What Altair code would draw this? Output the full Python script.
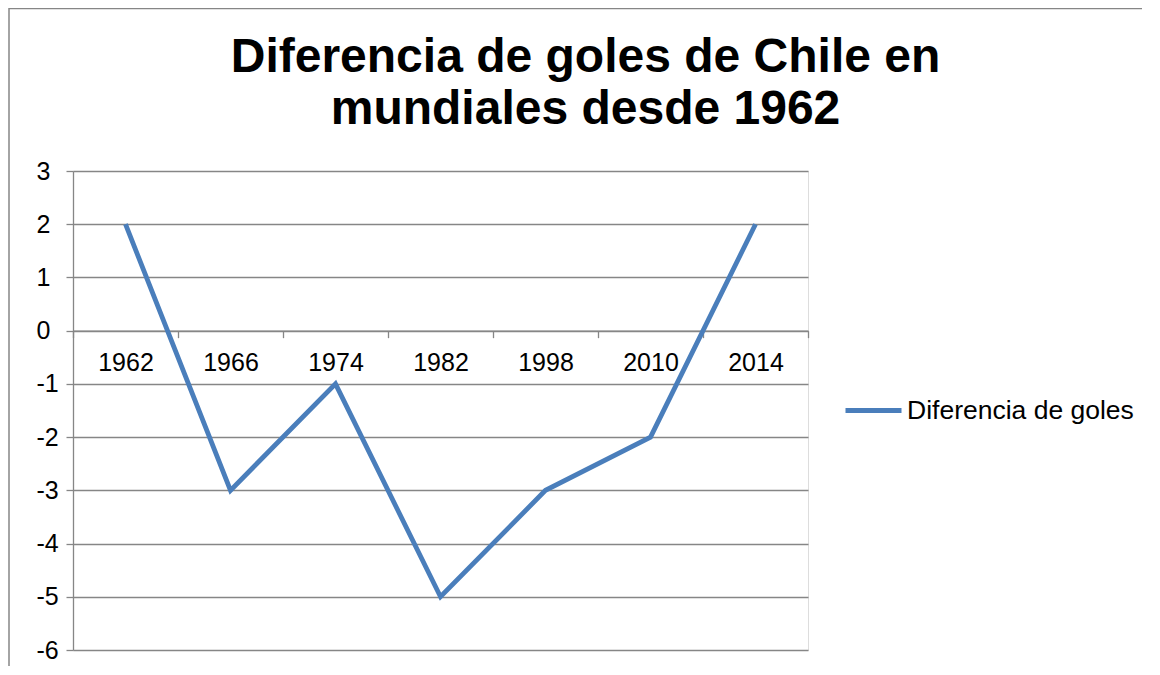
import altair as alt
import pandas as pd

years = ["1962", "1966", "1974", "1982", "1998", "2010", "2014"]
goal_diff = [2, -3, -1, -5, -3, -2, 2]
series_name = "Diferencia de goles"
title_lines = ["Diferencia de goles de Chile en", "mundiales desde 1962"]
y_ticks = [-6, -5, -4, -3, -2, -1, 0, 1, 2, 3]

df = pd.DataFrame({"year": years, "value": goal_diff, "serie": [series_name] * len(years)})

W, H = 735, 479
PAD_L, PAD_T, PAD_R, PAD_B = 65, 163, 334, 16
GRAY = "#868686"
BLUE = "#4a7ebb"
FONT = "Liberation Sans"

line = alt.Chart(df).mark_line(strokeWidth=4.8, color=BLUE).encode(
    x=alt.X(
        "year:N",
        sort=years,
        scale=alt.Scale(type="band", paddingInner=0, paddingOuter=0),
        axis=alt.Axis(
            title=None,
            orient="bottom",
            offset=-H * 6 / 9,
            labelAngle=0,
            tickBand="extent",
            tickSize=7,
            tickColor=GRAY,
            tickWidth=1.3,
            domainColor=GRAY,
            domainWidth=1.3,
            labelFontSize=25,
            labelPadding=13,
            grid=False,
        ),
    ),
    y=alt.Y(
        "value:Q",
        scale=alt.Scale(domain=[-6, 3], nice=False, zero=False),
        axis=alt.Axis(
            title=None,
            values=y_ticks,
            labelExpr="'' + datum.value",
            tickSize=7,
            tickColor=GRAY,
            tickWidth=1.3,
            domainColor=GRAY,
            domainWidth=1.3,
            gridColor=GRAY,
            gridWidth=1.3,
            gridOpacity=1,
            labelFontSize=25,
            labelAlign="left",
            labelPadding=30,
        ),
    ),
    color=alt.Color(
        "serie:N",
        scale=alt.Scale(domain=[series_name], range=[BLUE]),
        legend=alt.Legend(
            title=None,
            orient="none",
            legendX=770,
            legendY=209,
            symbolType="stroke",
            symbolSize=3136,
            symbolStrokeWidth=4.8,
            labelFontSize=26.5,
            labelOffset=3,
            labelFont=FONT,
            labelColor="black",
            labelLimit=400,
            padding=0,
        ),
    ),
)

border = alt.Data(values=[{"k": 1}])
left_border = alt.Chart(border).mark_rule(color=GRAY, strokeWidth=1.5).encode(
    x=alt.value(-64), y=alt.value(-163), y2=alt.value(H + PAD_B)
)
top_border = alt.Chart(border).mark_rule(color=GRAY, strokeWidth=1.5).encode(
    x=alt.value(-64), x2=alt.value(W + PAD_R), y=alt.value(-162.5)
)

chart = (
    alt.layer(left_border, top_border, line)
    .properties(
        width=W,
        height=H,
        padding={"left": PAD_L, "top": PAD_T, "right": PAD_R, "bottom": PAD_B},
        autosize=alt.AutoSizeParams(type="none"),
        title=alt.TitleParams(
            text=title_lines,
            font=FONT,
            fontSize=48,
            fontWeight="bold",
            color="black",
            anchor="middle",
            frame="group",
            baseline="alphabetic",
            dx=145,
            offset=-165,
            lineHeight=52,
        ),
    )
    .configure_view(stroke=None)
    .configure_axis(labelFont=FONT, labelColor="black")
    .configure(background="white")
)

chart.save("out.html", embed_options={"renderer": "svg", "actions": False})
